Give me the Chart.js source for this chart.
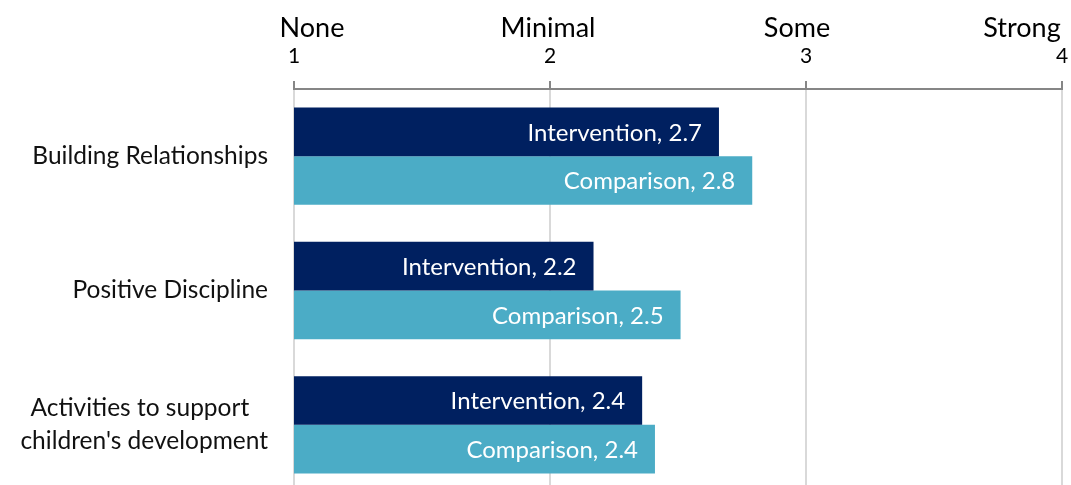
<!DOCTYPE html>
<html lang="en">
<head>
	<meta charset="UTF-8">
	<title>Practice scores</title>
	<script src="https://cdn.jsdelivr.net/npm/chart.js"></script>
	<style>
		html, body { margin: 0; padding: 0; background: #fff; overflow: hidden; }
		canvas { display: block; }
	</style>
</head>
<body>
	<canvas id="myChart" width="1071" height="492"></canvas>

	<script>
		// categories (top to bottom)
		const categories = [
			"Building Relationships",
			"Positive Discipline",
			["Activities to support   ", "children's development"]
		];
		const seriesNames = ["Intervention", "Comparison"];
		const interventionValues = [2.66, 2.17, 2.36];
		const comparisonValues = [2.79, 2.51, 2.41];

		// top axis: numbers come from the scale, words sit above them
		const scaleWords = ["None", "Minimal", "Some", "Strong"];

		const FONT = "Lato, 'Noto Sans', sans-serif";

		const barLabels = {
			id: "barLabels",
			afterDatasetsDraw(chart) {
				const ctx = chart.ctx;
				ctx.save();
				ctx.font = "24px " + FONT;
				ctx.fillStyle = "#ffffff";
				ctx.textAlign = "right";
				ctx.textBaseline = "middle";
				chart.data.datasets.forEach((ds, i) => {
					chart.getDatasetMeta(i).data.forEach((bar, j) => {
						const txt = ds.label + ", " + ds.data[j].toFixed(1);
						ctx.fillText(txt, bar.x - 17, bar.y + 1);
					});
				});
				ctx.restore();
			}
		};

		const topWords = {
			id: "topWords",
			afterDraw(chart, args, opts) {
				const ctx = chart.ctx;
				const x = chart.scales.x;
				ctx.save();
				ctx.font = "27px " + FONT;
				ctx.fillStyle = "#000";
				ctx.textAlign = "center";
				ctx.textBaseline = "alphabetic";
				scaleWords.forEach((w, i) => {
					ctx.fillText(w, x.getPixelForValue(i + 1) + opts.shift[i], 37);
				});
				ctx.restore();
			}
		};

		const config = {
			type: "bar",
			data: {
				labels: categories,
				datasets: [
					{
						label: seriesNames[0],
						data: interventionValues,
						backgroundColor: "#002060"
					},
					{
						label: seriesNames[1],
						data: comparisonValues,
						backgroundColor: "#4bacc6"
					}
				]
			},
			options: {
				indexAxis: "y",
				responsive: false,
				animation: false,
				layout: { padding: { left: 0, right: 9, top: 0, bottom: 0 } },
				plugins: {
					legend: { display: false },
					tooltip: { enabled: false },
					topWords: { shift: [18, -2, -9, -40] }
				},
				datasets: {
					bar: { barPercentage: 1, categoryPercentage: 0.724 }
				},
				scales: {
					x: {
						position: "top",
						min: 1,
						max: 4,
						ticks: {
							stepSize: 1,
							font: { family: FONT, size: 21 },
							color: "#000",
							padding: 12
						},
						grid: {
							color: "#d9d9d9",
							lineWidth: 2,
							tickLength: 8,
							tickColor: "#868686",
							tickWidth: 2
						},
						border: { color: "#868686", width: 2 },
						afterFit(scale) {
							scale.height = 89;
							scale.paddingLeft = 0;
							scale.paddingRight = 0;
						}
					},
					y: {
						grid: { display: false, drawTicks: false },
						border: { display: false },
						ticks: {
							font: { family: FONT, size: 24.5, lineHeight: 1.35 },
							color: "#111",
							padding: 26
						},
						afterFit(scale) {
							scale.width = 294;
							scale.paddingTop = 0;
							scale.paddingBottom = 0;
						}
					}
				}
			},
			plugins: [barLabels, topWords]
		};

		const myChart = new Chart(document.getElementById("myChart"), config);
	</script>
</body>
</html>
